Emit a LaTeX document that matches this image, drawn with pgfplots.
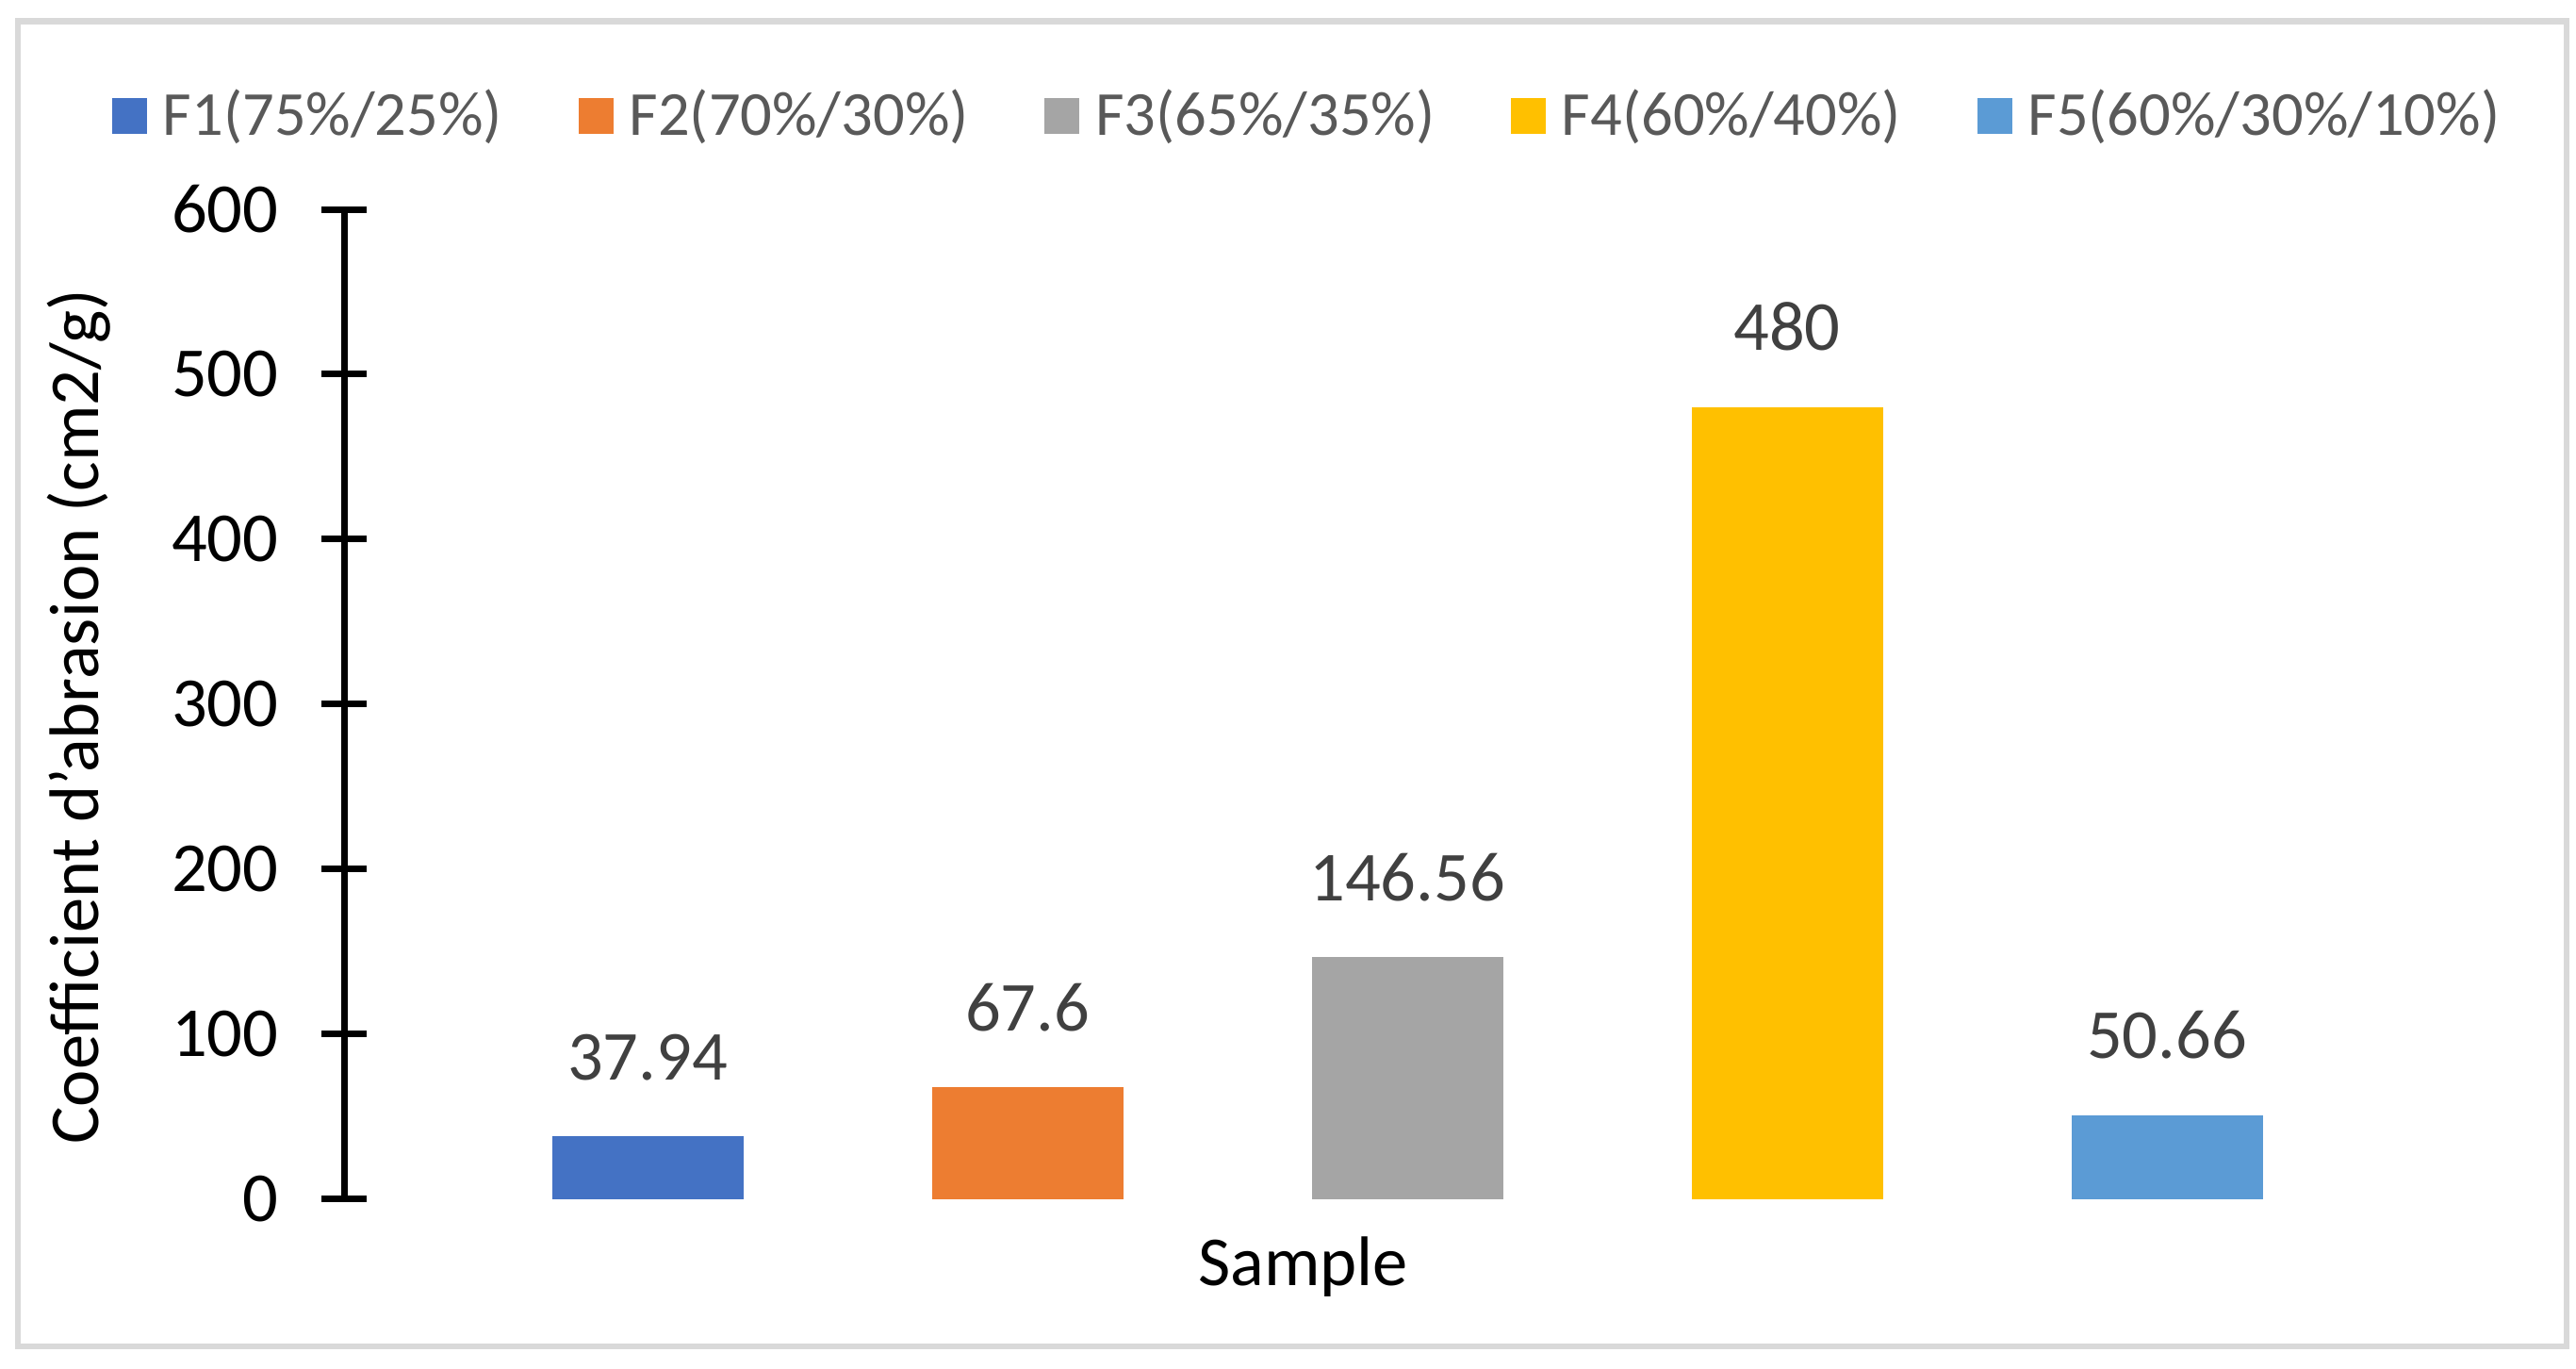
\documentclass[border=0pt]{standalone}
\usepackage{pgfplots}
\pgfplotsset{compat=1.18}
\usepackage{fontspec}
\setmainfont{Carlito}
\definecolor{cF1}{HTML}{4472C4}
\definecolor{cF2}{HTML}{ED7D31}
\definecolor{cF3}{HTML}{A5A5A5}
\definecolor{cF4}{HTML}{FFC000}
\definecolor{cF5}{HTML}{5B9BD5}
\definecolor{framegray}{HTML}{D9D9D9}
\definecolor{labgray}{HTML}{404040}
\definecolor{leggray}{HTML}{595959}
\begin{document}
\begin{tikzpicture}
\path[use as bounding box] (0,0) rectangle (546.6pt,290.2pt);
\draw[framegray, line width=1.3pt] (3.8pt,4.6pt) rectangle (544.6pt,285.7pt);
\begin{axis}[
  at={(73.1pt,35.9pt)}, anchor=south west,
  scale only axis, width=452.4pt, height=209.9pt,
  xmin=-0.798, xmax=4.815, ymin=0, ymax=600,
  ybar, bar width=40.6pt,
  axis x line*=bottom, axis y line*=left,
  x axis line style={draw=none},
  y axis line style={black, line width=1.4pt},
  xtick=\empty,
  ytick={0,100,...,600},
  tick align=center, major tick length=9.6pt,
  ytick style={black, line width=1.4pt},
  yticklabel style={font=\fontsize{14.9}{17}\selectfont, inner sep=0pt, anchor=east, xshift=-9pt},
  /pgf/number format/assume math mode=true,
  xlabel={Sample},
  ylabel={Coefficient d'abrasion (cm2/g)},
  xlabel style={font=\fontsize{14.9}{17}\selectfont, at={(axis description cs:0.4496,-0.0877)}, anchor=base, inner sep=0pt},
  ylabel style={font=\fontsize{14.9}{17}\selectfont, at={(axis description cs:-0.1247,0.487)}, anchor=center, inner sep=0pt},
  clip=false,
  point meta=explicit symbolic,
  nodes near coords,
  every node near coord/.append style={font=\fontsize{14.9}{17}\selectfont, text=labgray, anchor=south, inner sep=0pt, yshift=11.7pt},
  legend columns=5,
  legend style={at={(axis description cs:-0.109,1.0943)}, anchor=west, draw=none, inner sep=0pt, outer sep=0pt,
    font=\fontsize{13.3}{15}\selectfont, text=leggray,
    nodes={inner sep=0pt},
    /tikz/every odd column/.append style={column sep=3.4pt},
    /tikz/every even column/.append style={column sep=16.1pt}},
  legend image code/.code={\fill[#1] (0pt,-3.8pt) rectangle (7.4pt,3.8pt);},
]
\addplot[fill=cF1, draw=none, bar shift=0pt] coordinates {(0,37.94) [37.94]};
\addlegendentry{F1(75\%/25\%)}
\addplot[fill=cF2, draw=none, bar shift=0pt] coordinates {(1,67.6) [67.6]};
\addlegendentry{F2(70\%/30\%)}
\addplot[fill=cF3, draw=none, bar shift=0pt] coordinates {(2,146.56) [146.56]};
\addlegendentry{F3(65\%/35\%)}
\addplot[fill=cF4, draw=none, bar shift=0pt] coordinates {(3,480) [480]};
\addlegendentry{F4(60\%/40\%)}
\addplot[fill=cF5, draw=none, bar shift=0pt] coordinates {(4,50.66) [50.66]};
\addlegendentry{F5(60\%/30\%/10\%)}
\end{axis}
\end{tikzpicture}
\end{document}
